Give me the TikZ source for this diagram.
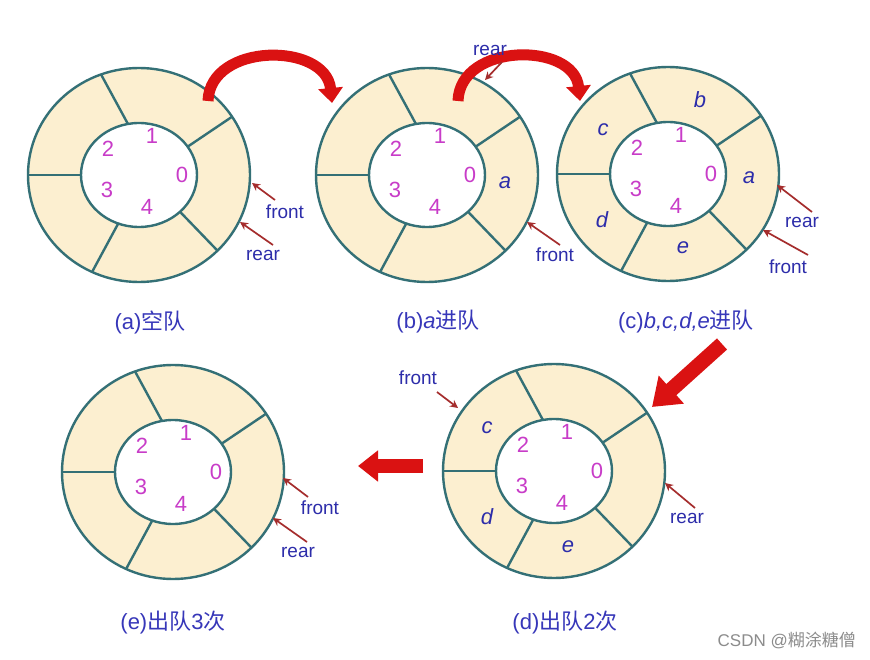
\documentclass[tikz,border=0pt]{standalone}
\usepackage{fontspec}
\setmainfont{Liberation Sans}
\newfontfamily\cjk{Noto Sans CJK SC}
\usetikzlibrary{arrows.meta}
\definecolor{ringfill}{RGB}{252,239,208}
\definecolor{ringline}{RGB}{52,112,118}
\definecolor{digitcol}{RGB}{200,60,200}
\definecolor{labcol}{RGB}{45,45,170}
\definecolor{capcol}{RGB}{55,55,185}
\definecolor{ptrcol}{RGB}{165,45,45}
\definecolor{bigred}{RGB}{218,18,18}
\definecolor{wmcol}{RGB}{140,140,140}
\tikzset{
  digit/.style={text=digitcol,font=\fontsize{22}{22}\selectfont,inner sep=0pt},
  elem/.style={text=labcol,font=\fontsize{22}{22}\selectfont\itshape,inner sep=0pt},
  ptrlabel/.style={text=labcol,font=\fontsize{19}{19}\selectfont,inner sep=0pt},
  ptr/.style={draw=ptrcol,line width=1.7pt,-{Stealth[length=8pt,width=8pt]}},
  caption/.style={text=capcol,font=\fontsize{22}{22}\selectfont,inner sep=0pt},
  bigcurve/.style={draw=bigred,line width=11pt,-{Triangle[width=24pt,length=15pt]}},
  ringpic/.pic={
    \fill[ringfill] (0,0) ellipse [x radius=111pt,y radius=107pt];
    \filldraw[fill=white,draw=ringline,line width=2.4pt] (0,0) ellipse [x radius=58pt,y radius=52pt];
    \draw[ringline,line width=2.4pt] (0,0) ellipse [x radius=111pt,y radius=107pt];
    \foreach \ai/\ao in {33/33,101/110,180/180,249/245,315/315}
      \draw[ringline,line width=2.4pt] ({58*cos(\ai)},{-52*sin(\ai)}) -- ({111*cos(\ao)},{-107*sin(\ao)});
    \node[digit] (d1) at (13,-39) {1};
    \node[digit] (d2) at (-31,-26) {2};
    \node[digit] (d0) at (43,0) {0};
    \node[digit] (d3) at (-32,15) {3};
    \node[digit] (d4) at (8,32) {4};
  }
}
\begin{document}
\begin{tikzpicture}[x=1pt,y=-1pt]
\useasboundingbox (0,0) rectangle (870,660);
\fill[white] (0,0) rectangle (870,660);

% rings
\pic (ra) at (139,175) {ringpic};
\pic (rb) at (427,175) {ringpic};
\pic (rc) at (668,174) {ringpic};
\pic (re) at (173,472) {ringpic};
\pic (rd) at (554,471) {ringpic};

% elements
\node[elem] (b-a) at (505,183) {a};
\node[elem] (c-a) at (749,178) {a};
\node[elem] (c-b) at (700,100) {b};
\node[elem] (c-c) at (603,130) {c};
\node[elem] (c-d) at (602,220) {d};
\node[elem] (c-e) at (683,248) {e};
\node[elem] (d-c) at (487,428) {c};
\node[elem] (d-d) at (487,517) {d};
\node[elem] (d-e) at (568,547) {e};

% big red arrows
\coordinate (arc1s) at (208,101);
\coordinate (arc1e) at (332,103);
\coordinate (arc2s) at (458,101);
\coordinate (arc2e) at (580,101);
\draw[bigcurve] (arc1s) .. controls (210,42) and (326,42) .. (arc1e);
\draw[bigcurve] (arc2s) .. controls (460,42) and (574,42) .. (arc2e);
\coordinate (cd-s) at (722,344);
\coordinate (cd-e) at (652,407);
\draw[draw=bigred,line width=15pt,-{Triangle[width=36pt,length=26pt]}] (cd-s) -- (cd-e);
\coordinate (de-s) at (423,466);
\coordinate (de-e) at (358,466);
\draw[draw=bigred,line width=14pt,-{Triangle[width=30pt,length=20pt]}] (de-s) -- (de-e);

% pointers (a)
\node[ptrlabel] (a-front) at (285,212) {front};
\node[ptrlabel] (a-rear) at (263,255) {rear};
\coordinate (a-fs) at (275,200); \coordinate (a-fe) at (252,183);
\coordinate (a-rs) at (273,245); \coordinate (a-re) at (240,222);
\draw[ptr] (a-fs) -- (a-fe);
\draw[ptr] (a-rs) -- (a-re);
% (b)
\node[ptrlabel] (b-rear) at (490,50) {rear};
\node[ptrlabel] (b-front) at (555,255) {front};
\coordinate (b-rs) at (502,62); \coordinate (b-re) at (485,80);
\coordinate (b-fs) at (560,245); \coordinate (b-fe) at (527,222);
\draw[ptr] (b-rs) -- (b-re);
\draw[ptr] (b-fs) -- (b-fe);
% (c)
\node[ptrlabel] (c-rear) at (802,222) {rear};
\node[ptrlabel] (c-front) at (788,267) {front};
\coordinate (c-rs) at (812,212); \coordinate (c-re) at (777,185);
\coordinate (c-fs) at (808,255); \coordinate (c-fe) at (763,230);
\draw[ptr] (c-rs) -- (c-re);
\draw[ptr] (c-fs) -- (c-fe);
% (d)
\node[ptrlabel] (d-front) at (418,378) {front};
\node[ptrlabel] (d-rear) at (687,518) {rear};
\coordinate (d-fs) at (437,392); \coordinate (d-fe) at (458,408);
\coordinate (d-rs) at (695,508); \coordinate (d-re) at (665,483);
\draw[ptr] (d-fs) -- (d-fe);
\draw[ptr] (d-rs) -- (d-re);
% (e)
\node[ptrlabel] (e-front) at (320,508) {front};
\node[ptrlabel] (e-rear) at (298,552) {rear};
\coordinate (e-fs) at (308,497); \coordinate (e-fe) at (283,478);
\coordinate (e-rs) at (307,542); \coordinate (e-re) at (273,518);
\draw[ptr] (e-fs) -- (e-fe);
\draw[ptr] (e-rs) -- (e-re);

% captions
\node[caption] (cap-a) at (150,322) {(a){\cjk 空队}};
\node[caption] (cap-b) at (438,322) {(b)\textit{a}{\cjk 进队}};
\node[caption] (cap-c) at (686,322) {(c)\textit{b,c,d,e}{\cjk 进队}};
\node[caption] (cap-e) at (173,623) {(e){\cjk 出队}3{\cjk 次}};
\node[caption] (cap-d) at (565,623) {(d){\cjk 出队}2{\cjk 次}};

% watermark
\node[text=wmcol,font=\fontsize{17}{17}\selectfont,inner sep=0pt,anchor=east] (wm) at (856,640) {CSDN @{\cjk 糊涂糖僧}};
\end{tikzpicture}
\end{document}
